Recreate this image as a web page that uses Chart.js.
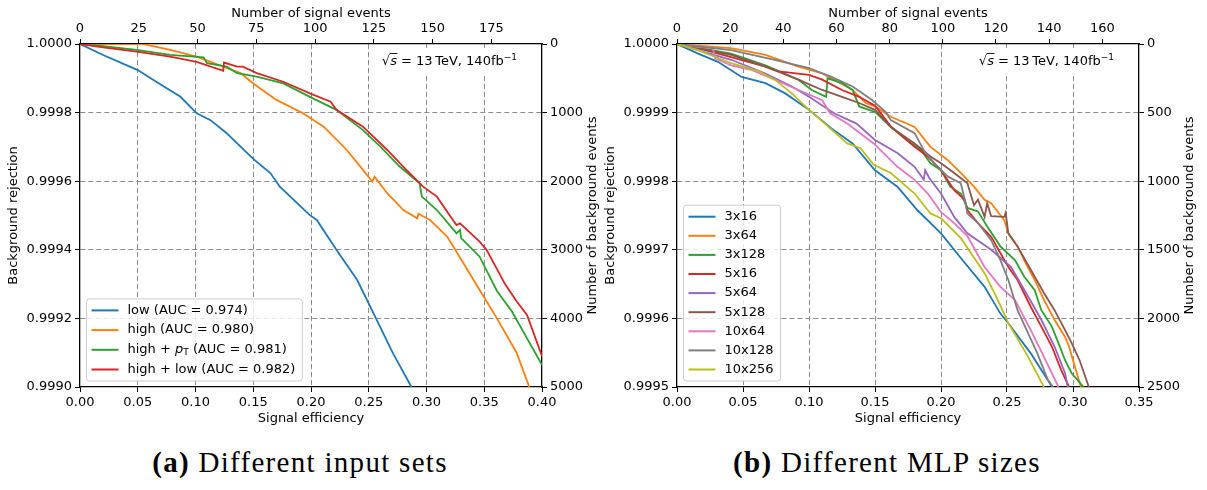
<!DOCTYPE html>
<html>
<head>
<meta charset="utf-8">
<script src="https://cdn.jsdelivr.net/npm/chart.js@4.4.1/dist/chart.umd.min.js"></script>
<style>
    body { margin: 0; background: #fff; width: 1207px; height: 490px; position: relative; overflow: hidden; }
    canvas { position: absolute; top: 0; }
    #rocInputs { left: 0; }
    #rocSizes { left: 597px; }
    .caption {
        position: absolute;
        top: 446px;
        width: 600px;
        text-align: center;
        font-family: "Liberation Serif", "DejaVu Serif", serif;
        font-size: 29px;
        letter-spacing: 1.3px;
        line-height: 32px;
        color: #000;
    }
</style>
</head>
<body>
<canvas id="rocInputs" width="605" height="430"></canvas>
<canvas id="rocSizes" width="605" height="430"></canvas>
<div class="caption" style="left:0"><b>(a)</b> Different input sets</div>
<div class="caption" style="left:587px"><b>(b)</b> Different MLP sizes</div>
<script>
// ---- (a) input sets: signal efficiency vs background rejection
const inputLabels = ["low (AUC = 0.974)", "high (AUC = 0.980)", "high + p_T (AUC = 0.981)", "high + low (AUC = 0.982)"]

const lowEff = [0, 0.020, 0.050, 0.066, 0.087, 0.101, 0.113, 0.127, 0.139, 0.151, 0.165, 0.173, 0.188, 0.199, 0.205, 0.222, 0.240, 0.257, 0.271, 0.287]
const lowRej = [1.0, 0.999968, 0.999924, 0.99989, 0.999846, 0.999798, 0.999778, 0.99974, 0.999701, 0.999662, 0.999623, 0.999584, 0.999536, 0.999501, 0.999487, 0.9994, 0.999312, 0.999195, 0.999098, 0.999]

const highEff = [0, 0.055, 0.078, 0.101, 0.124, 0.139, 0.150, 0.170, 0.193, 0.211, 0.231, 0.245, 0.253, 0.255, 0.266, 0.280, 0.292, 0.293, 0.303, 0.318, 0.332, 0.346, 0.361, 0.378, 0.389]
const highRej = [1.0, 1.0, 0.999983, 0.999963, 0.999934, 0.999915, 0.999885, 0.999837, 0.999798, 0.999759, 0.999691, 0.999633, 0.999599, 0.999613, 0.999565, 0.999516, 0.999492, 0.999505, 0.999487, 0.999438, 0.999361, 0.999283, 0.9992, 0.9991, 0.999]

const highPtEff = [0, 0.020, 0.049, 0.078, 0.107, 0.110, 0.127, 0.136, 0.153, 0.176, 0.199, 0.222, 0.245, 0.260, 0.277, 0.294, 0.296, 0.309, 0.326, 0.329, 0.330, 0.346, 0.361, 0.374, 0.384, 0.400]
const highPtRej = [1.0, 0.999994, 0.999983, 0.999968, 0.999961, 0.999944, 0.999934, 0.999915, 0.999905, 0.999885, 0.999846, 0.999808, 0.999749, 0.999701, 0.999642, 0.999594, 0.999555, 0.999516, 0.999448, 0.999458, 0.999434, 0.99938, 0.99928, 0.99922, 0.99916, 0.999065]

const highLowEff = [0, 0.020, 0.049, 0.078, 0.101, 0.124, 0.1247, 0.136, 0.141, 0.153, 0.176, 0.199, 0.217, 0.222, 0.245, 0.266, 0.280, 0.297, 0.309, 0.320, 0.326, 0.329, 0.346, 0.352, 0.368, 0.378, 0.387, 0.400]
const highLowRej = [1.0, 0.99999, 0.999978, 0.999963, 0.999948, 0.999922, 0.999946, 0.999934, 0.999934, 0.999915, 0.99989, 0.999856, 0.999832, 0.999808, 0.999759, 0.999691, 0.999642, 0.999584, 0.999555, 0.999501, 0.999472, 0.999477, 0.999424, 0.9994, 0.9993, 0.99925, 0.99921, 0.99909]

// ---- (b) MLP sizes
const sizeLabels = ["3x16", "3x64", "3x128", "5x16", "5x64", "5x128", "10x64", "10x128", "10x256"]

const m3x16Eff = [0, 0.016, 0.031, 0.049, 0.067, 0.082, 0.100, 0.117, 0.133, 0.150, 0.167, 0.182, 0.200, 0.215, 0.233, 0.245, 0.251, 0.268, 0.281, 0.284]
const m3x16Rej = [1.0, 0.999986, 0.999974, 0.999952, 0.999943, 0.999928, 0.999904, 0.999877, 0.999855, 0.999816, 0.999792, 0.999758, 0.999724, 0.999688, 0.999646, 0.999607, 0.999593, 0.999549, 0.99951, 0.9995]

const m3x64Eff = [0, 0.041, 0.067, 0.092, 0.110, 0.117, 0.133, 0.143, 0.150, 0.162, 0.180, 0.192, 0.205, 0.215, 0.225, 0.233, 0.238, 0.248, 0.251, 0.258, 0.263, 0.271, 0.278, 0.286, 0.294, 0.297, 0.300, 0.306]
const m3x64Rej = [1.0, 0.999994, 0.999984, 0.999967, 0.999957, 0.99995, 0.999933, 0.999914, 0.999909, 0.999894, 0.999879, 0.99985, 0.999831, 0.999812, 0.999792, 0.999773, 0.999768, 0.999743, 0.999724, 0.999705, 0.999685, 0.999656, 0.999627, 0.999598, 0.999573, 0.999559, 0.999539, 0.9995]

const m3x128Eff = [0, 0.041, 0.067, 0.092, 0.102, 0.113, 0.114, 0.125, 0.133, 0.138, 0.150, 0.162, 0.174, 0.185, 0.192, 0.200, 0.207, 0.215, 0.220, 0.228, 0.235, 0.245, 0.256, 0.263, 0.271, 0.276, 0.284, 0.289, 0.294, 0.299, 0.308]
const m3x128Rej = [1.0, 0.999986, 0.999969, 0.999948, 0.999933, 0.999923, 0.99995, 0.999943, 0.999933, 0.999909, 0.999901, 0.999879, 0.99986, 0.999845, 0.999826, 0.999816, 0.999792, 0.999782, 0.999761, 0.999756, 0.999734, 0.999705, 0.999685, 0.999661, 0.999641, 0.999612, 0.999588, 0.999564, 0.999539, 0.99952, 0.9995]

const m5x16Eff = [0, 0.016, 0.041, 0.067, 0.077, 0.100, 0.110, 0.125, 0.138, 0.150, 0.162, 0.180, 0.190, 0.200, 0.210, 0.218, 0.220, 0.228, 0.238, 0.251, 0.258, 0.268, 0.276, 0.284, 0.291, 0.297]
const m5x16Rej = [1.0, 0.999994, 0.999981, 0.999967, 0.99996, 0.999955, 0.999948, 0.999933, 0.999923, 0.99991, 0.99988, 0.99985, 0.999836, 0.999816, 0.999787, 0.999773, 0.999758, 0.999739, 0.999719, 0.999675, 0.999656, 0.999617, 0.999588, 0.999559, 0.999525, 0.9995]

const m5x64Eff = [0, 0.041, 0.067, 0.087, 0.100, 0.119, 0.136, 0.150, 0.167, 0.180, 0.187, 0.188, 0.191, 0.200, 0.210, 0.220, 0.238, 0.253, 0.266, 0.276, 0.286, 0.294, 0.296]
const m5x64Rej = [1.0, 0.999977, 0.999957, 0.999938, 0.999923, 0.999899, 0.999884, 0.99986, 0.999841, 0.999821, 0.999802, 0.999816, 0.999805, 0.999782, 0.999748, 0.999724, 0.9997, 0.999675, 0.999632, 0.999598, 0.999559, 0.99952, 0.9995]

const m5x128Eff = [0, 0.041, 0.067, 0.092, 0.110, 0.125, 0.138, 0.150, 0.162, 0.180, 0.192, 0.200, 0.210, 0.220, 0.225, 0.228, 0.233, 0.235, 0.238, 0.248, 0.249, 0.251, 0.258, 0.268, 0.278, 0.286, 0.294, 0.299, 0.305, 0.312]
const m5x128Rej = [1.0, 0.999984, 0.999967, 0.999948, 0.999933, 0.999923, 0.999914, 0.999904, 0.999879, 0.999855, 0.999836, 0.999826, 0.999812, 0.999797, 0.999765, 0.999773, 0.999748, 0.999768, 0.999749, 0.999748, 0.999754, 0.999724, 0.999705, 0.999671, 0.999637, 0.999612, 0.999583, 0.999564, 0.999539, 0.9995]

const m10x64Eff = [0, 0.016, 0.027, 0.029, 0.041, 0.057, 0.074, 0.092, 0.110, 0.116, 0.129, 0.149, 0.167, 0.180, 0.190, 0.200, 0.210, 0.220, 0.233, 0.245, 0.256, 0.268, 0.278, 0.289]
const m10x64Rej = [1.0, 0.999996, 0.999994, 0.999979, 0.999969, 0.999962, 0.999948, 0.999933, 0.999918, 0.999899, 0.999884, 0.999855, 0.999821, 0.999802, 0.999782, 0.999755, 0.999739, 0.99972, 0.999675, 0.999646, 0.999627, 0.999583, 0.999544, 0.9995]

const m10x128Eff = [0, 0.041, 0.057, 0.074, 0.100, 0.117, 0.133, 0.148, 0.158, 0.162, 0.180, 0.187, 0.195, 0.205, 0.215, 0.218, 0.220, 0.228, 0.238, 0.245, 0.251, 0.258, 0.266, 0.273, 0.281, 0.285]
const m10x128Rej = [1.0, 0.999991, 0.999984, 0.999977, 0.999965, 0.999952, 0.999938, 0.999918, 0.999901, 0.999889, 0.99987, 0.999845, 0.999826, 0.999807, 0.999797, 0.999773, 0.999753, 0.999739, 0.999714, 0.999685, 0.999656, 0.999612, 0.999578, 0.999549, 0.99951, 0.9995]

const m10x256Eff = [0, 0.016, 0.029, 0.041, 0.062, 0.074, 0.087, 0.100, 0.109, 0.129, 0.139, 0.149, 0.162, 0.180, 0.192, 0.200, 0.215, 0.233, 0.243, 0.251, 0.266, 0.278]
const m10x256Rej = [1.0, 0.999991, 0.999981, 0.999972, 0.99996, 0.999948, 0.999928, 0.999904, 0.999889, 0.999855, 0.999848, 0.999824, 0.999812, 0.999782, 0.999753, 0.999746, 0.999717, 0.999666, 0.999627, 0.999593, 0.999544, 0.9995]

const palette = ["#1f77b4", "#ff7f0e", "#2ca02c", "#d62728", "#9467bd", "#8c564b", "#e377c2", "#7f7f7f", "#bcbd22"]

Chart.defaults.font.family = '"DejaVu Sans", sans-serif'
Chart.defaults.font.size = 13
Chart.defaults.color = "#000"

const baseFont = '13px "DejaVu Sans"'

// label text with an optional p_T (italic p, subscript T)
const labelWidth = (ctx, text) => {
    const parts = text.split("p_T")
    ctx.font = baseFont
    let w = ctx.measureText(parts[0]).width
    if (parts.length > 1) {
        ctx.font = 'italic ' + baseFont
        w += ctx.measureText("p").width
        ctx.font = '9px "DejaVu Sans"'
        w += ctx.measureText("T").width
        ctx.font = baseFont
        w += ctx.measureText(parts[1]).width
    }
    return w
}

const drawLabel = (ctx, text, x, y) => {
    const parts = text.split("p_T")
    ctx.font = baseFont
    ctx.fillText(parts[0], x, y)
    x += ctx.measureText(parts[0]).width
    if (parts.length > 1) {
        ctx.font = 'italic ' + baseFont
        ctx.fillText("p", x, y)
        x += ctx.measureText("p").width
        ctx.font = '9px "DejaVu Sans"'
        ctx.fillText("T", x, y + 3)
        x += ctx.measureText("T").width
        ctx.font = baseFont
        ctx.fillText(parts[1], x, y)
    }
}

const rocDecor = {
    id: "rocDecor",
    beforeDatasetsDraw(chart) {
        // sqrt(s) note in a white box, top right
        const { ctx, chartArea: ca } = chart
        ctx.save()
        ctx.font = baseFont
        const radW = ctx.measureText("\u221a").width
        ctx.font = 'italic ' + baseFont
        const sW = ctx.measureText("s").width
        ctx.font = baseFont
        const rest = " = 13\u2009TeV, 140fb"
        const restW = ctx.measureText(rest).width
        ctx.font = '9px "DejaVu Sans"'
        const supW = ctx.measureText("\u22121").width
        const total = radW + sW + restW + supW
        const x0 = ca.right - 25 - total
        const base = ca.top + 21
        ctx.fillStyle = "#fff"
        ctx.fillRect(x0 - 6, ca.top + 4, total + 12, 25)
        ctx.fillStyle = "#000"
        ctx.textBaseline = "alphabetic"
        ctx.font = baseFont
        ctx.fillText("\u221a", x0, base)
        ctx.font = 'italic ' + baseFont
        ctx.fillText("s", x0 + radW, base)
        ctx.strokeStyle = "#000"
        ctx.lineWidth = 0.9
        ctx.beginPath()
        ctx.moveTo(x0 + radW - 0.5, base - 11.5)
        ctx.lineTo(x0 + radW + sW + 0.5, base - 11.5)
        ctx.stroke()
        ctx.font = baseFont
        ctx.fillText(rest, x0 + radW + sW, base)
        ctx.font = '9px "DejaVu Sans"'
        ctx.fillText("\u22121", x0 + radW + sW + restW, base - 5)
        ctx.restore()
    },
    afterDatasetsDraw(chart, args, opts) {
        const { ctx, chartArea: ca } = chart
        const labels = opts.labels
        const rowH = opts.rowH
        ctx.save()
        const textW = Math.max(...labels.map((l) => labelWidth(ctx, l)))
        const boxW = 41 + textW + 7
        const boxH = (labels.length - 1) * rowH + 23
        const bx = ca.left + 6.5
        const by = ca.bottom - 6 - boxH
        ctx.beginPath()
        ctx.roundRect(bx, by, boxW, boxH, 3)
        ctx.fillStyle = "rgba(255,255,255,0.8)"
        ctx.fill()
        ctx.strokeStyle = "#cccccc"
        ctx.lineWidth = 1
        ctx.stroke()
        ctx.textBaseline = "middle"
        labels.forEach((label, i) => {
            const cy = by + 11.5 + i * rowH
            ctx.strokeStyle = palette[i]
            ctx.lineWidth = 2
            ctx.beginPath()
            ctx.moveTo(bx + 5, cy)
            ctx.lineTo(bx + 32, cy)
            ctx.stroke()
            ctx.fillStyle = "#000"
            drawLabel(ctx, label, bx + 41, cy)
        })
        ctx.restore()
    },
    afterDraw(chart) {
        // right-hand axis title, reading bottom to top
        const { ctx, chartArea: ca } = chart
        ctx.save()
        ctx.translate(ca.right + 51, (ca.top + ca.bottom) / 2)
        ctx.rotate(-Math.PI / 2)
        ctx.font = baseFont
        ctx.fillStyle = "#000"
        ctx.textAlign = "center"
        ctx.textBaseline = "middle"
        ctx.fillText("Number of background events", 0, 0)
        ctx.restore()
    },
}

const tickGrid = { tickLength: 5, tickColor: "#000", tickWidth: 1, tickBorderDash: [] }
const spine = { display: true, color: "#000", width: 1.3 }
// dashed grid, but none on the frame itself
const innerGrid = (lo, hi) => (c) =>
    (Math.abs(c.tick.value - lo) < 1e-9 || Math.abs(c.tick.value - hi) < 1e-9) ? "rgba(0,0,0,0)" : "#8c8c8c"

const makeRoc = (canvasId, setup) => {
    const ctx = document.getElementById(canvasId).getContext("2d")
    const n = setup.series.length
    return new Chart(ctx, {
        type: "scatter",
        data: {
            datasets: setup.series.map(([eff, rej], i) => ({
                label: setup.labels[i],
                data: eff.map((e, j) => ({ x: e, y: rej[j] })),
                showLine: true,
                borderColor: palette[i],
                backgroundColor: palette[i],
                borderWidth: 1.8,
                pointRadius: 0,
                order: n - i,
                xAxisID: "x",
                yAxisID: "y",
            })),
        },
        plugins: [rocDecor],
        options: {
            responsive: false,
            animation: false,
            devicePixelRatio: 1,
            events: [],
            layout: { padding: 0 },
            plugins: {
                legend: { display: false },
                tooltip: { enabled: false },
                rocDecor: { labels: setup.labels, rowH: setup.rowH },
            },
            scales: {
                x: {
                    type: "linear",
                    position: "bottom",
                    min: 0,
                    max: setup.effMax,
                    afterFit: (s) => { s.height = 43 },
                    ticks: { stepSize: 0.05, callback: (v) => v.toFixed(2), padding: 3, maxRotation: 0, autoSkip: false },
                    grid: { color: innerGrid(0, setup.effMax), lineWidth: 1, ...tickGrid },
                    border: { ...spine, dash: [5, 3] },
                    title: { display: true, text: "Signal efficiency", padding: { top: 0, bottom: 4 } },
                },
                x2: {
                    type: "linear",
                    position: "top",
                    display: true,
                    min: 0,
                    max: setup.sigMax,
                    afterFit: (s) => { s.height = 44 },
                    ticks: { stepSize: setup.sigStep, includeBounds: false, callback: (v) => String(v), padding: 3, maxRotation: 0, autoSkip: false },
                    grid: { drawOnChartArea: false, ...tickGrid },
                    border: spine,
                    title: { display: true, text: "Number of signal events", padding: { top: 6, bottom: 0 } },
                },
                y: {
                    type: "linear",
                    position: "left",
                    min: setup.rejMin,
                    max: 1.0,
                    afterFit: (s) => { s.width = 80 },
                    ticks: { stepSize: setup.rejStep, callback: (v) => v.toFixed(4), padding: 3, autoSkip: false },
                    grid: { color: innerGrid(setup.rejMin, 1.0), lineWidth: 1, ...tickGrid },
                    border: { ...spine, dash: [5, 3] },
                    title: { display: true, text: "Background rejection", padding: { top: 5.5, bottom: 0 } },
                },
                y2: {
                    type: "linear",
                    position: "right",
                    display: true,
                    reverse: true,
                    min: 0,
                    max: setup.bkgMax,
                    afterFit: (s) => { s.width = 63 },
                    ticks: { stepSize: setup.bkgStep, callback: (v) => String(v), padding: 3, autoSkip: false },
                    grid: { drawOnChartArea: false, ...tickGrid },
                    border: spine,
                },
            },
        },
    })
}

makeRoc("rocInputs", {
    labels: inputLabels,
    series: [[lowEff, lowRej], [highEff, highRej], [highPtEff, highPtRej], [highLowEff, highLowRej]],
    effMax: 0.4,
    sigMax: 196.5,
    sigStep: 25,
    rejMin: 0.999,
    rejStep: 0.0002,
    bkgMax: 5000,
    bkgStep: 1000,
    rowH: 19.7,
})

makeRoc("rocSizes", {
    labels: sizeLabels,
    series: [
        [m3x16Eff, m3x16Rej], [m3x64Eff, m3x64Rej], [m3x128Eff, m3x128Rej],
        [m5x16Eff, m5x16Rej], [m5x64Eff, m5x64Rej], [m5x128Eff, m5x128Rej],
        [m10x64Eff, m10x64Rej], [m10x128Eff, m10x128Rej], [m10x256Eff, m10x256Rej],
    ],
    effMax: 0.35,
    sigMax: 173.8,
    sigStep: 20,
    rejMin: 0.9995,
    rejStep: 0.0001,
    bkgMax: 2500,
    bkgStep: 500,
    rowH: 19.1,
})
</script>
</body>
</html>
